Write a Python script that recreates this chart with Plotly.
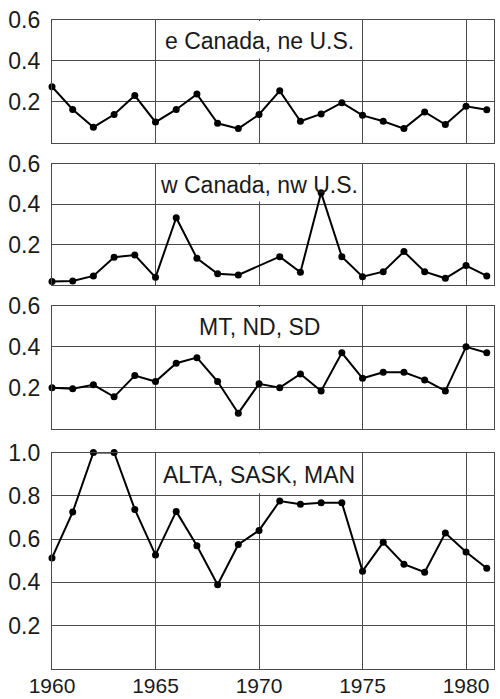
import plotly.graph_objects as go

years = list(range(1960, 1982))

e_canada = [0.273, 0.162, 0.075, 0.137, 0.230, 0.100, 0.162, 0.237, 0.094, 0.068, 0.137,
            0.253, 0.104, 0.140, 0.195, 0.133, 0.104, 0.068, 0.150, 0.088, 0.177, 0.160]
w_canada = [0.017, 0.020, 0.045, 0.137, 0.148, 0.038, 0.332, 0.132, 0.055, 0.050, None,
            0.140, 0.063, 0.455, 0.140, 0.041, 0.066, 0.165, 0.066, 0.033, 0.096, 0.045]
mt_nd_sd = [0.200, 0.195, 0.214, 0.155, 0.259, 0.230, 0.320, 0.347, 0.230, 0.075, 0.219,
            0.200, 0.267, 0.184, 0.371, 0.246, 0.275, 0.275, 0.238, 0.184, 0.400, 0.371]
alta_sask_man = [0.513, 0.725, 1.000, 1.000, 0.737, 0.527, 0.728, 0.569, 0.389, 0.575, 0.640,
                 0.776, 0.761, 0.768, 0.768, 0.452, 0.585, 0.484, 0.447, 0.628, 0.540, 0.465]

titles = ["e Canada, ne U.S.", "w Canada, nw U.S.", "MT, ND, SD", "ALTA, SASK, MAN"]
series = [e_canada, w_canada, mt_nd_sd, alta_sask_man]
ymax = [0.6, 0.6, 0.6, 1.0]
ytickvals = [[0.2, 0.4, 0.6], [0.2, 0.4, 0.6], [0.2, 0.4, 0.6], [0.2, 0.4, 0.6, 0.8, 1.0]]
x_ticks = [1960, 1965, 1970, 1975, 1980]

H = 699
# pixel top/bottom of each panel
panels_px = [(20, 142.5), (163.5, 285), (306, 428.5), (452.5, 669)]

fig = go.Figure()
FONT = "Liberation Sans, Arial, sans-serif"
GRID = "#4a4a4a"

layout = dict(
    width=500, height=H,
    margin=dict(l=52, r=6, t=0, b=0),
    paper_bgcolor="white", plot_bgcolor="white",
    showlegend=False,
    font=dict(family=FONT, size=23, color="#1a1a1a"),
)

shapes = []
annotations = []
for i, (vals, ttl) in enumerate(zip(series, titles)):
    n = i + 1
    xa = "x" if n == 1 else f"x{n}"
    ya = "y" if n == 1 else f"y{n}"
    fig.add_trace(go.Scatter(
        x=years, y=vals, xaxis=xa, yaxis=ya, mode="lines+markers",
        connectgaps=True,
        line=dict(color="black", width=2),
        marker=dict(color="black", size=7),
        cliponaxis=False,
    ))
    top, bot = panels_px[i]
    xkey = "xaxis" if n == 1 else f"xaxis{n}"
    ykey = "yaxis" if n == 1 else f"yaxis{n}"
    layout[xkey] = dict(
        range=[1960, 1981.35], tickvals=x_ticks, ticktext=[str(t) for t in x_ticks],
        showticklabels=(n == 4), ticks="", showgrid=True, gridcolor=GRID, gridwidth=1,
        showline=True, mirror=True, linecolor=GRID, linewidth=1.2,
        zeroline=False, anchor=ya, automargin=False, ticklabelstandoff=-2,
        tickfont=dict(size=21),
        matches="x" if n > 1 else None,
    )
    layout[ykey] = dict(
        range=[0, ymax[i]], tickvals=ytickvals[i],
        ticktext=[f"{v:.1f}" for v in ytickvals[i]],
        domain=[1 - bot / H, 1 - top / H], ticks="",
        showgrid=True, gridcolor=GRID, gridwidth=1,
        showline=True, mirror=True, linecolor=GRID, linewidth=1.2,
        zeroline=False, anchor=xa, automargin=False, ticklabelstandoff=6,
    )
    lower = ytickvals[i][-2]
    shapes.append(dict(
        type="rect", xref=xa, yref=ya, x0=1965.06, x1=1974.94,
        y0=lower + 0.012, y1=ymax[i] - 0.005, layer="between",
        fillcolor="white", line=dict(width=0),
    ))
    annotations.append(dict(
        x=1970, y=(lower + ymax[i]) / 2, xref=xa, yref=ya, text=ttl,
        showarrow=False, font=dict(family=FONT, size=23, color="#1a1a1a"),
        yshift=-1,
    ))

layout["shapes"] = shapes
layout["annotations"] = annotations
fig.update_layout(**layout)
fig.write_html("out.html", config={"displayModeBar": False})

with open("out.html", "r", encoding="utf-8") as f:
    html = f.read()
html = html.replace("<body>", '<body style="margin:0;padding:0;overflow:hidden">', 1)
with open("out.html", "w", encoding="utf-8") as f:
    f.write(html)
